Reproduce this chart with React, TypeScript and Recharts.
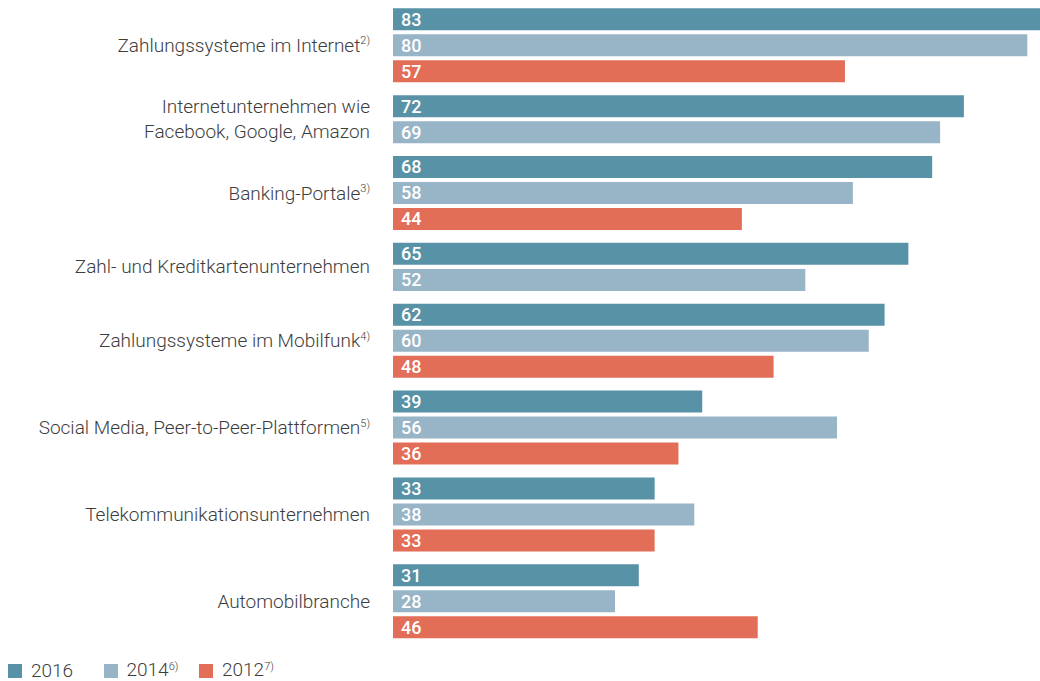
import { BarChart, Bar, XAxis, YAxis, Cell, LabelList, Legend } from "recharts";

const categories = [
  "Zahlungssysteme im Internet",
  "Internetunternehmen wie\nFacebook, Google, Amazon",
  "Banking-Portale",
  "Zahl- und Kreditkartenunternehmen",
  "Zahlungssysteme im Mobilfunk",
  "Social Media, Peer-to-Peer-Plattformen",
  "Telekommunikationsunternehmen",
  "Automobilbranche",
];
const footnotes = ["2)", "", "3)", "", "4)", "5)", "", ""];

const values2016 = [83, 72, 68, 65, 62, 39, 33, 31];
const values2014 = [80, 69, 58, 52, 60, 56, 38, 28];
const values2012: (number | null)[] = [57, null, 44, null, 48, 36, 33, 46];

const seriesNames = ["2016", "2014", "2012"];
const seriesNotes = ["", "6)", "7)"];
const seriesColors = ["#5892a6", "#98b4c7", "#e36e58"];

const FONT = "Roboto, 'DejaVu Sans', sans-serif";
const TEXT = "#3d3d3d";
const GROUP_GAP = 0.34; // extra space between groups, in rows

// one row per bar; missing values drop out so groups close up
const rows: { pos: number; value: number; series: number }[] = [];
const groupCenters: number[] = [];
let r = 0;
categories.forEach((_, g) => {
  const first = r + g * GROUP_GAP;
  [values2016, values2014, values2012].forEach((vals, s) => {
    const v = vals[g];
    if (v == null) return;
    rows.push({ pos: r + g * GROUP_GAP, value: v, series: s });
    r++;
  });
  const last = r - 1 + g * GROUP_GAP;
  groupCenters.push((first + last) / 2);
});
const lastPos = rows[rows.length - 1].pos;

function GroupTick(props: any) {
  const { x, y, payload } = props;
  const g = groupCenters.findIndex((c) => Math.abs(c - payload.value) < 1e-6);
  if (g < 0) return null;
  const lines = categories[g].split("\n");
  const lh = 25;
  return (
    <g>
      {lines.map((line, i) => (
        <text
          key={i}
          x={x}
          y={y + (i - (lines.length - 1) / 2) * lh}
          textAnchor="end"
          dominantBaseline="central"
          fill={TEXT}
          fontSize={19}
          fontWeight={300}
          fontFamily={FONT}
        >
          {line}
          {i === lines.length - 1 && footnotes[g] ? (
            <tspan fontSize={11} dy={-5}>{footnotes[g]}</tspan>
          ) : null}
        </text>
      ))}
    </g>
  );
}

function LegendContent() {
  return (
    <div style={{ height: 42, position: "relative", fontFamily: FONT }}>
      {seriesNames.map((name, i) => (
        <div
          key={name}
          style={{
            position: "absolute",
            left: i * 95.5,
            top: 23,
            height: 18,
            display: "flex",
            alignItems: "center",
            color: TEXT,
            lineHeight: "18px",
          }}
        >
          <span style={{ width: 14, height: 14, background: seriesColors[i], display: "inline-block" }} />
          <span style={{ marginLeft: 9, fontSize: 19, fontWeight: 300 }}>
            {name}
            {seriesNotes[i] ? (
              <span style={{ fontSize: 11, position: "relative", top: -6 }}>{seriesNotes[i]}</span>
            ) : null}
          </span>
        </div>
      ))}
    </div>
  );
}

export default function App() {
  return (
    <div style={{ width: 1040, height: 681, padding: "8px 0 0 8px", boxSizing: "border-box" }}>
      <style>{"body{margin:0}"}</style>
      <BarChart
        width={1032}
        height={673}
        data={rows}
        layout="vertical"
        margin={{ top: 0, right: 0, bottom: 0, left: 0 }}
      >
        <XAxis type="number" dataKey="value" domain={[0, 81.6]} allowDataOverflow hide />
        <YAxis
          type="number"
          dataKey="pos"
          domain={[-0.435, lastPos + 0.45]}
          ticks={groupCenters}
          interval={0}
          width={385}
          tickLine={false}
          axisLine={false}
          tickSize={0}
          tickMargin={23}
          tick={<GroupTick />}
        />
        <Legend verticalAlign="bottom" align="left" content={<LegendContent />} />
        <Bar dataKey="value" barSize={22} isAnimationActive={false}>
          {rows.map((row, i) => (
            <Cell key={i} fill={seriesColors[row.series]} />
          ))}
          <LabelList
            dataKey="value"
            position="insideLeft"
            offset={8}
            fill="#ffffff"
            fontSize={18}
            fontWeight={500}
            fontFamily={FONT}
          />
        </Bar>
      </BarChart>
    </div>
  );
}
